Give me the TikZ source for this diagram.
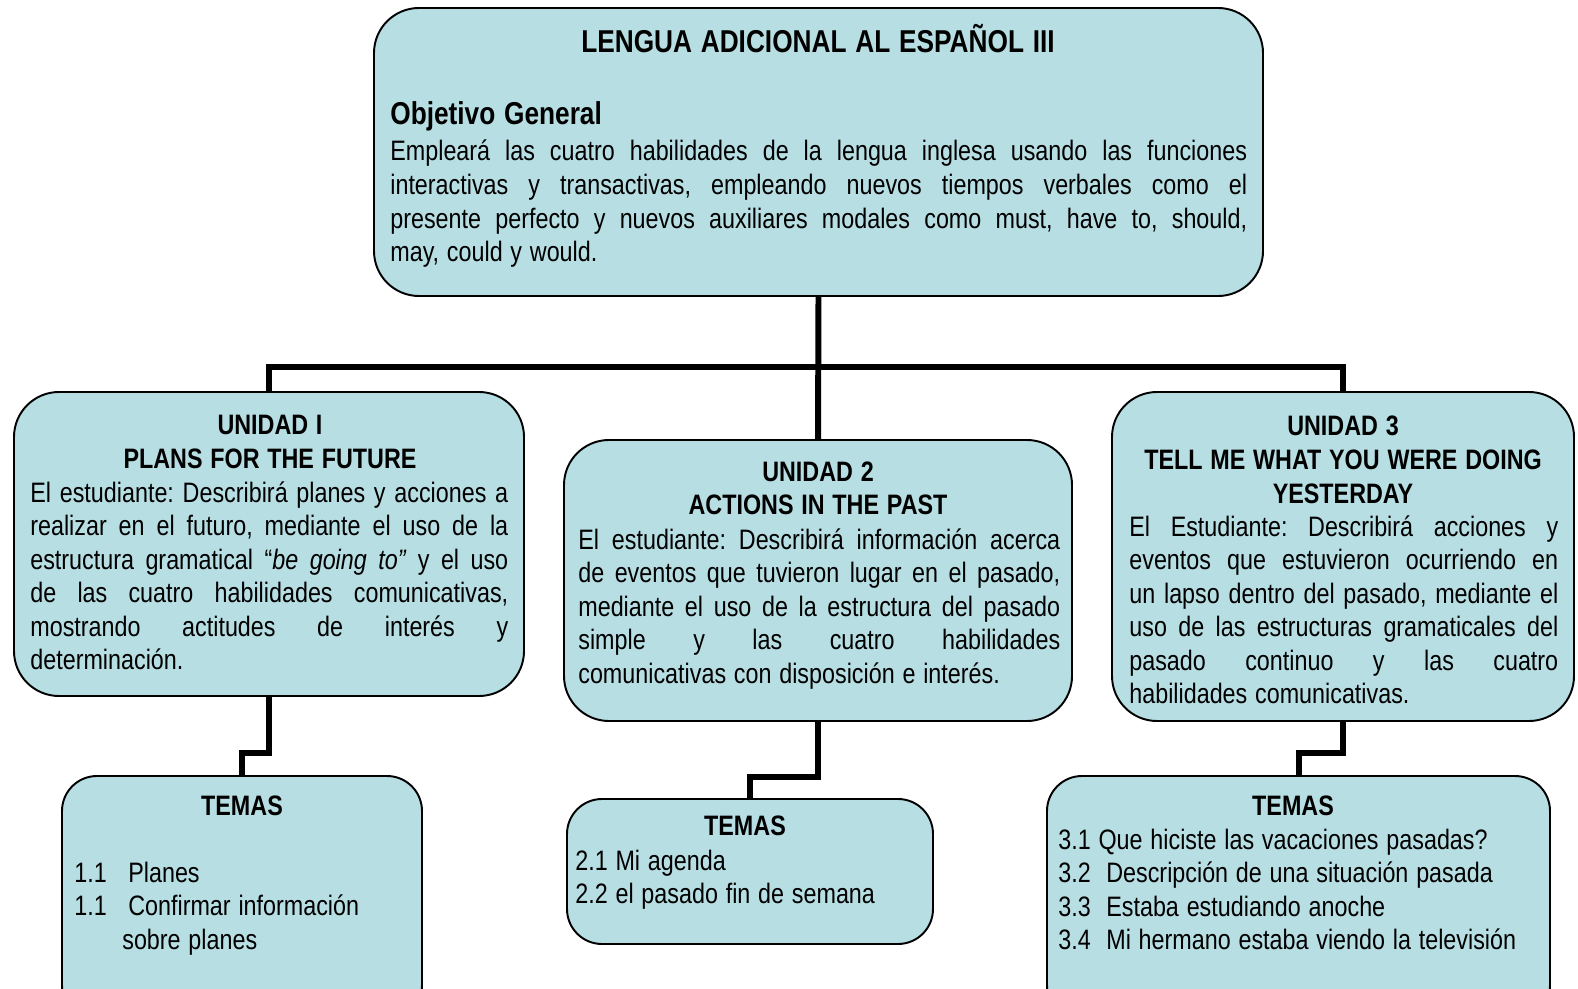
\documentclass[tikz,border=0pt]{standalone}
\usepackage{fontspec}
\setmainfont{Liberation Sans}[FakeStretch=0.83, WordSpace=1.2]
\usetikzlibrary{calc,fit}
\definecolor{aqua}{RGB}{183,222,227}
\newcommand{\cuerpo}{\fontsize{16}{19.1}\selectfont}
\newcommand{\grande}{\fontsize{18}{21}\selectfont\bfseries}
\hyphenpenalty=10000
\frenchspacing

\begin{document}
\begin{tikzpicture}[x=0.02cm,y=-0.02cm]
      \tikzset{
        caja/.style={draw=black, line width=1.1pt, fill=aqua, rounded corners=0.9cm, inner sep=0pt},
        cajita/.style={caja, rounded corners=0.7cm},
        texto/.style={anchor=base west, inner sep=0pt, align=justify, font=\cuerpo},
        lista/.style={anchor=base west, inner sep=0pt, align=flush left, text width=9.5cm, font=\cuerpo},
        titulo/.style={anchor=base, inner sep=0pt, align=flush center, text width=9cm, font=\cuerpo\bfseries},
        linea/.style={line width=3.4pt}
      }
      \useasboundingbox (0,0) rectangle (1578,989);

      \coordinate (barra) at (818,367);

      % CAJAS
      \node[caja, fit={(374,8) (1263,296)}] (general) {};
      \node[caja, fit={(14,392) (524,696)}] (u1) {};
      \node[caja, fit={(564,440) (1072,721)}] (u2) {};
      \node[caja, fit={(1112,392) (1574,721)}] (u3) {};
      \node[cajita, fit={(62,776) (422,1020)}] (t1) {};
      \node[cajita, fit={(567,799) (933,944)}] (t2) {};
      \node[cajita, fit={(1047,776) (1550,1020)}] (t3) {};

      % LINEAS
      \draw[linea] (general.south) -- (u2.north);
      \draw[linea] (u1.north) |- (barra) -| (u3.north);
      \draw[linea] (u1.south) -- ++(0,56) -| (t1.north);
      \draw[linea] (u2.south) -- ++(0,55) -| (t2.north);
      \draw[linea] (u3.south) -- ++(0,31) -| (t3.north);

      % OBJETIVO GENERAL
      \node[anchor=base, inner sep=0pt, font=\grande] (titulo) at (818,53) {LENGUA ADICIONAL AL ESPAÑOL III};
      \node[anchor=base west, inner sep=0pt, font=\grande] (objetivo) at (390,125) {Objetivo General};
      \node[texto, text width=17.14cm] (objtexto) at (390,161) {Empleará las cuatro habilidades de la lengua inglesa usando las funciones \linebreak interactivas y transactivas, empleando nuevos tiempos verbales como el \linebreak presente perfecto y nuevos auxiliares modales como must, have to, should, \linebreak may, could y would.};

      % UNIDADES
      \node[titulo] (u1titulo) at (270,435) {UNIDAD I\\PLANS FOR THE FUTURE};
      \node[texto, text width=9.56cm] (u1texto) at (30,502) {El estudiante: Describirá planes y acciones a \linebreak realizar en el futuro, mediante el uso de la \linebreak estructura gramatical “\textit{be going to”} y el uso \linebreak de las cuatro habilidades comunicativas, \linebreak mostrando actitudes de interés y \linebreak determinación.};

      \node[titulo] (u2titulo) at (818,481) {UNIDAD 2\\ACTIONS IN THE PAST};
      \node[texto, text width=9.64cm] (u2texto) at (578,549) {El estudiante: Describirá información acerca \linebreak de eventos que tuvieron lugar en el pasado, \linebreak mediante el uso de la estructura del pasado \linebreak simple y las cuatro habilidades \linebreak comunicativas con disposición e interés.};

      \node[titulo] (u3titulo) at (1343,436) {UNIDAD 3\\TELL ME WHAT YOU WERE DOING\\YESTERDAY};
      \node[texto, text width=8.58cm] (u3texto) at (1129,536) {El Estudiante: Describirá acciones y \linebreak eventos que estuvieron ocurriendo en \linebreak un lapso dentro del pasado, mediante el \linebreak uso de las estructuras gramaticales del \linebreak pasado continuo y las cuatro \linebreak habilidades comunicativas.};

      % TEMAS
      \node[titulo] (t1titulo) at (242,815) {TEMAS};
      \node[lista] (t1lista) at (74,882) {\makebox[1.08cm][l]{1.1}Planes\\\makebox[1.08cm][l]{1.1}Confirmar información\\\hspace*{0.96cm}sobre planes};

      \node[titulo] (t2titulo) at (745,835) {TEMAS};
      \node[lista] (t2lista) at (575,870) {2.1 Mi agenda\\2.2 el pasado fin de semana};

      \node[titulo] (t3titulo) at (1293,815) {TEMAS};
      \node[lista] (t3lista) at (1058,849) {3.1 Que hiciste las vacaciones pasadas?\\\makebox[0.96cm][l]{3.2}Descripción de una situación pasada\\\makebox[0.96cm][l]{3.3}Estaba estudiando anoche\\\makebox[0.96cm][l]{3.4}Mi hermano estaba viendo la televisión};
\end{tikzpicture}
\end{document}
